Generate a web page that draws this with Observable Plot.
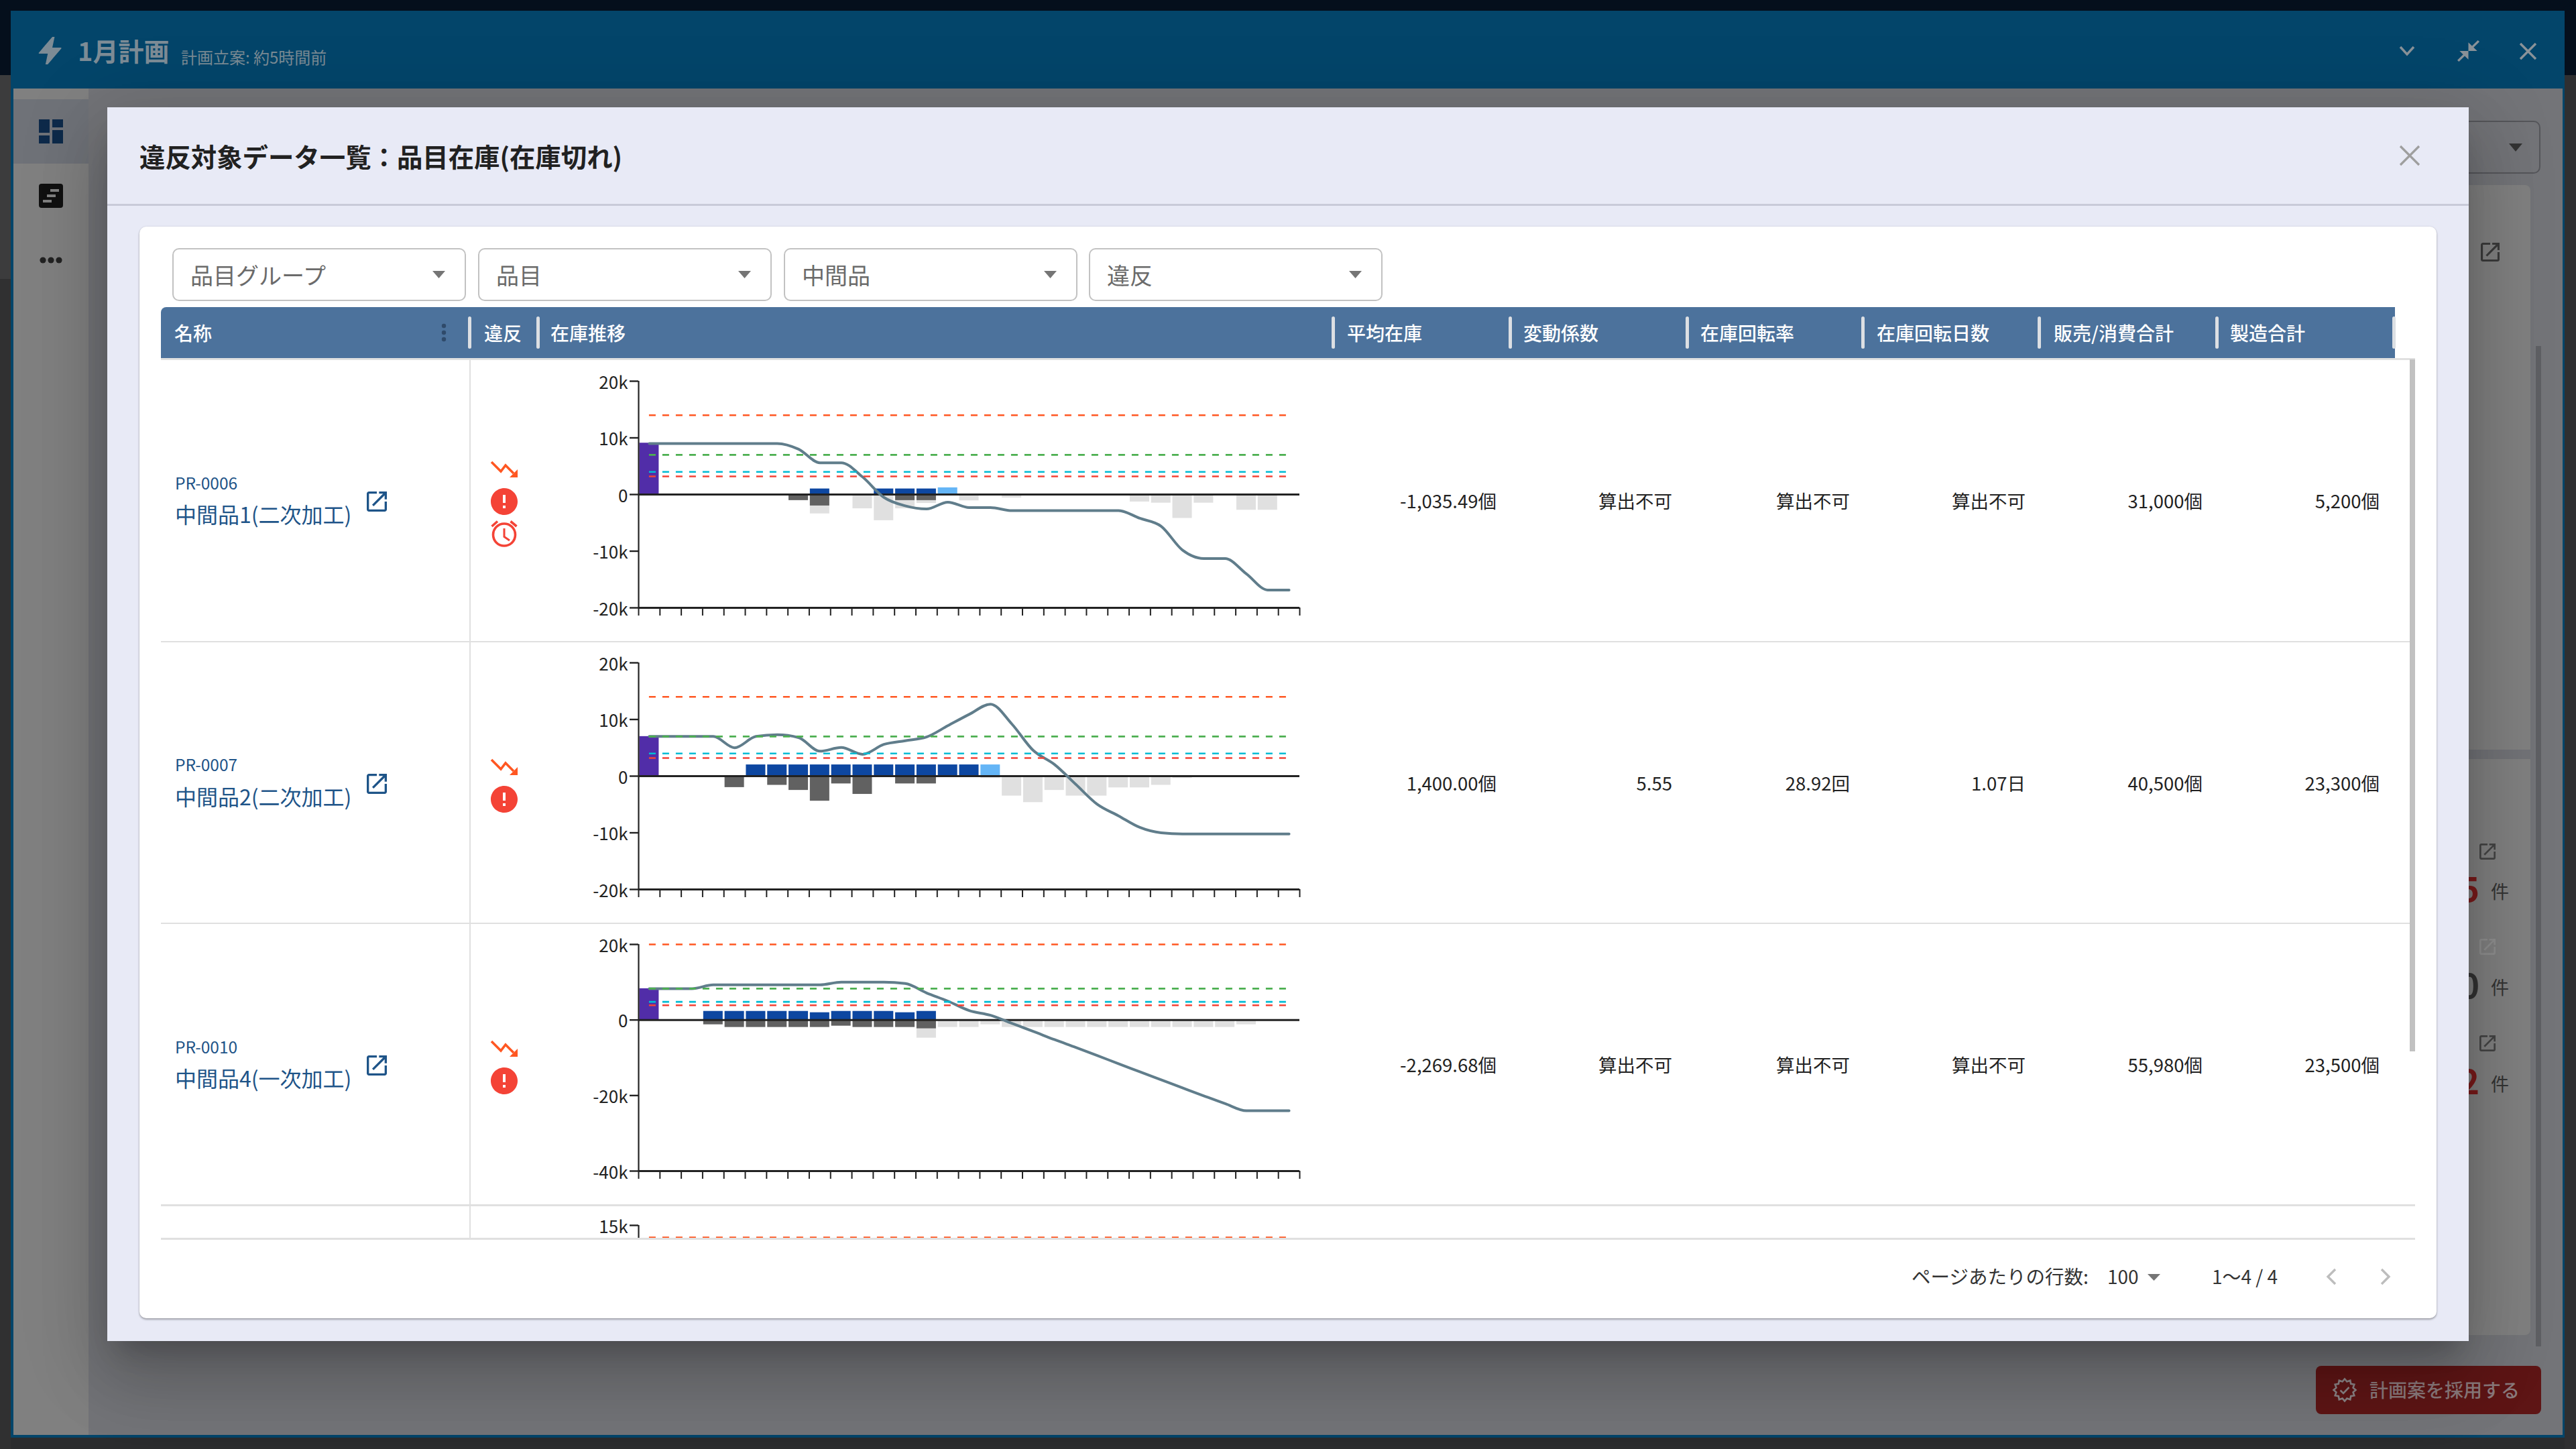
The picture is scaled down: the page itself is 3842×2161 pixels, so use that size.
<!DOCTYPE html>
<html lang="ja"><head><meta charset="utf-8">
<script src="https://cdn.jsdelivr.net/npm/d3@7"></script>
<script src="https://cdn.jsdelivr.net/npm/@observablehq/plot@0.6"></script>
<style>
html,body{margin:0;padding:0;width:3842px;height:2161px;overflow:hidden;background:#2b2c2e;font-family:"Noto Sans CJK JP","Noto Sans",sans-serif}
.a{position:absolute;box-sizing:border-box}
.t{position:absolute;white-space:nowrap;line-height:1}
</style></head><body>
<div id="root" class="a" style="left:0;top:0;width:3842px;height:2161px;overflow:hidden"></div>
<script>
// ---------- Chart data ----------
const slots = d3.range(31);

const itemCodes = ["PR-0006","PR-0007","PR-0010"];
const itemNames = ["中間品1(二次加工)","中間品2(二次加工)","中間品4(一次加工)"];
const avgStock = ["-1,035.49個","1,400.00個","-2,269.68個"];
const variation = ["算出不可","5.55","算出不可"];
const turnover = ["算出不可","28.92回","算出不可"];
const turnoverDays = ["算出不可","1.07日","算出不可"];
const salesTotal = ["31,000個","40,500個","55,980個"];
const makeTotal = ["5,200個","23,300個","23,500個"];
const columns = ["平均在庫","変動係数","在庫回転率","在庫回転日数","販売/消費合計","製造合計"];
const filters = ["品目グループ","品目","中間品","違反"];

const stock1 = [9000,9000,9000,9000,9000,9000,9000,8000,5600,5600,3100,-500,-2000,-2550,-1350,-2300,-2300,-2850,-2850,-2850,-2850,-2850,-2850,-4200,-5600,-9800,-11300,-11300,-14000,-16850,-16850];
const opening1 = 9080;
const firm1 = [0,0,0,0,0,0,0,0,1000,0,0,1000,1000,1000,0,0,0,0,0,0,0,0,0,0,0,0,0,0,0,0,0];
const plan1 = [0,0,0,0,0,0,0,0,0,0,0,0,0,0,1200,0,0,0,0,0,0,0,0,0,0,0,0,0,0,0,0];
const sold1 = [0,0,0,0,0,0,0,-1050,-2000,0,0,0,-1050,-1050,0,0,0,0,0,0,0,0,0,0,0,0,0,0,0,0,0];
const fcst1 = [0,0,0,0,0,0,0,0,-3400,0,-2500,-4600,-2500,-1550,0,-1100,0,-600,0,0,0,0,0,-1300,-1500,-4200,-1500,0,-2750,-2750,0];
const limits1 = [14000,7000,4000,3200];

const stock2 = [7000,7000,7000,7000,5000,7000,7300,6800,4400,5050,3850,5600,6250,6900,8900,10900,12700,9200,4550,2050,-1450,-4950,-7000,-9050,-10000,-10200,-10200,-10200,-10200,-10200,-10200];
const opening2 = 7000;
const firm2 = [0,0,0,0,0,2000,2000,2000,2000,2000,2000,2000,2000,2000,2000,2000,0,0,0,0,0,0,0,0,0,0,0,0,0,0,0];
const plan2 = [0,0,0,0,0,0,0,0,0,0,0,0,0,0,0,0,2000,0,0,0,0,0,0,0,0,0,0,0,0,0,0];
const sold2 = [0,0,0,0,-2000,0,-1600,-2500,-4400,-1350,-3200,0,-1350,-1350,0,0,0,0,0,0,0,0,0,0,0,0,0,0,0,0,0];
const fcst2 = [0,0,0,0,0,0,0,0,0,0,0,0,0,0,0,0,-400,-3500,-4650,-2500,-3500,-3500,-2050,-2050,-1600,-400,0,0,0,0,0];
const limits2 = [14000,7000,4000,3200];

const stock3 = [8300,8300,8300,9300,9300,9300,9300,9300,9300,10000,10000,10000,9650,7170,5000,2500,1240,-890,-3010,-5200,-7270,-9390,-11580,-13700,-15830,-17960,-20080,-22150,-24040,-24040,-24040];
const opening3 = 8300;
const firm3 = [0,0,0,2300,2300,2300,2300,2300,1950,2300,2300,2300,1950,2300,0,0,0,0,0,0,0,0,0,0,0,0,0,0,0,0,0];
const plan3 = slots.map(() => 0);
const sold3 = [0,0,0,-1240,-1950,-1950,-1950,-1950,-1950,-1600,-1950,-1950,-1950,-2300,0,0,0,0,0,0,0,0,0,0,0,0,0,0,0,0,0];
const fcst3 = [0,0,0,0,0,0,0,0,0,0,0,0,0,-4780,-1950,-1950,-1240,-1950,-1950,-1950,-1950,-1950,-1950,-1950,-1950,-1950,-1950,-1950,-1240,0,0];
const limits3 = [20000,8300,4800,3900];

const limits4 = [13400];

const domain1 = [-20000,20000], ticks1 = [-20000,-10000,0,10000,20000];
const domain3 = [-40000,20000], ticks3 = [-40000,-20000,0,20000];
const domain4 = [-15000,15000], ticks4 = [15000];

// ---------- Page helpers ----------
const root = document.getElementById("root");
function box(x,y,w,h,bg,extra="",parent=root){const d=document.createElement("div");d.className="a";d.style.cssText=`left:${x}px;top:${y}px;width:${w}px;height:${h}px;background:${bg};${extra}`;parent.appendChild(d);return d;}
function txt(s,x,yc,size,color,o={},parent=root){const d=document.createElement("div");d.className="t";d.textContent=s;
  const side=o.right?`right:${3842-x}px;`:`left:${x}px;`;
  d.style.cssText=`${side}top:${yc-size/2}px;font-size:${size}px;color:${color};font-weight:${o.weight||400};`;parent.appendChild(d);return d;}
function ico(x,y,w,h,vb,inner,extra="",parent=root){const d=document.createElement("div");d.className="a";d.style.cssText=`left:${x}px;top:${y}px;width:${w}px;height:${h}px;${extra}`;
  d.innerHTML=`<svg xmlns="http://www.w3.org/2000/svg" width="${w}" height="${h}" viewBox="${vb}" preserveAspectRatio="none" style="display:block;overflow:visible">${inner}</svg>`;parent.appendChild(d);return d;}
const crossX=(cx,cy,s,c,sw)=>ico(cx-s/2,cy-s/2,s,s,`0 0 ${s} ${s}`,`<path d="M0 0L${s} ${s}M${s} 0L0 ${s}" stroke="${c}" stroke-width="${sw}" fill="none"/>`);
const OPEN="M19 19H5V5h7V3H5c-1.11 0-2 .9-2 2v14c0 1.1.89 2 2 2h14c1.1 0 2-.9 2-2v-7h-2v7zM14 3v2h3.59l-9.83 9.83 1.41 1.41L19 6.41V10h2V3h-7z";
const ERR="M12 2C6.48 2 2 6.48 2 12s4.48 10 10 10 10-4.48 10-10S17.52 2 12 2zm1 15h-2v-2h2v2zm0-4h-2V7h2v6z";

// ---------- Background application ----------
box(0,0,3842,16,"#050f1c");
box(0,16,16,96,"#050f1c");
box(0,112,16,304,"#3c3c3d");
box(0,416,16,1745,"#303031");
box(3825,16,17,96,"#050f1c");
box(3825,112,17,2049,"#2f2f31");
box(16,16,3809,2128,"#03456a");
box(20,132,3802,2008,"#737478");
box(20,132,112,2008,"#808080");
box(20,148,112,96,"#6f7278");
ico(58,178,36,36,"3 3 18 18",`<path fill="#0e2a4a" d="M3 13h8V3H3v10zm0 8h8v-6H3v6zm10 0h8V11h-8v10zm0-18v6h8V3h-8z"/>`);
ico(58,274,36,36,"0 0 36 36",`<rect width="36" height="36" rx="4" fill="#111"/><rect x="17" y="8" width="13" height="4" fill="#808080"/><rect x="12" y="16" width="13" height="4" fill="#808080"/><rect x="6" y="24" width="13" height="4" fill="#808080"/>`);
ico(58,380,36,16,"0 0 36 16",`<circle cx="6" cy="8" r="4.6" fill="#222"/><circle cx="18" cy="8" r="4.6" fill="#222"/><circle cx="30" cy="8" r="4.6" fill="#222"/>`);
ico(59,55,33,41,"7.4 3 9.7 18",`<path fill="#7c8b95" d="M11 21h-1l1-7H7.5c-.58 0-.57-.32-.38-.66.19-.34.05-.08.07-.12C8.48 10.94 10.42 7.54 13 3h1l-1 7h3.5c.49 0 .56.33.47.51l-.07.15C12.96 17.55 11 21 11 21z"/>`);
txt("1月計画",116,75,38,"#7d8c96",{weight:700});
txt("計画立案: 約5時間前",270,85,24,"#7a8a94");
ico(3579,69,22,14,"0 0 22 14",`<path d="M1 1L11 12L21 1" stroke="#8a9298" stroke-width="3.4" fill="none"/>`);
ico(3665,60,33,32,"2 2 20 20",`<path fill="#8a9298" d="M22 3.41l-5.29 5.29L20 12h-8V4l3.29 3.29L20.59 2 22 3.41zM3.41 22l5.29-5.29L12 20v-8H4l3.29 3.29L2 20.59 3.41 22z"/>`);
crossX(3770,76,23,"#8a9298",3.4);
box(3300,180,489,79,"transparent","border:2.5px solid #55565a;border-radius:10px");
ico(3742,214,20,12,"0 0 20 12",`<path d="M0 0H20L10 12Z" fill="#333"/>`);
box(3300,276,474,1715,"#808080","border-radius:8px");
box(3300,1118,474,14,"#727377");
box(3782,516,8,1492,"#5e5f63");
[[3700,362,28,"#3a3a3a"],[3698,1258,24,"#444"],[3698,1400,24,"#8f8f8f"],[3698,1544,24,"#444"]].forEach(([x,y,s,c])=>ico(x,y,s,s,"3 3 18 18",`<path fill="${c}" d="${OPEN}"/>`));
txt("5",3698,1323,50,"#7a1a1a",{right:true,weight:700});
txt("0",3698,1467,50,"#333",{right:true,weight:700});
txt("2",3698,1610,50,"#7a1a1a",{right:true,weight:700});
[1328,1471,1615].forEach(y=>txt("件",3715,y,27,"#333"));
box(3454,2037,336,72,"#5e1515","border-radius:8px");
const star=d3.range(24).map(i=>{const r=i%2?13:16.5,a=i*Math.PI/12;return `${17+r*Math.sin(a)},${17-r*Math.cos(a)}`}).join(" ");
ico(3480,2056,34,34,"0 0 34 34",`<polygon points="${star}" fill="none" stroke="#8b8486" stroke-width="2.6"/><path d="M10.5 17.5l4.5 4.5l8.5-9" fill="none" stroke="#8b8486" stroke-width="2.6"/>`);
txt("計画案を採用する",3534,2072,28,"#8b7a7c",{weight:500});

// ---------- Modal ----------
const modal=box(160,160,3522,1840,"#e8eaf6","box-shadow:0 27px 37px -17px rgba(0,0,0,.2),0 59px 93px 7px rgba(0,0,0,.14),0 22px 113px 20px rgba(0,0,0,.12)");
box(160,304,3522,3,"#c8cad8");
txt("違反対象データ一覧：品目在庫(在庫切れ)",208,232,38.4,"#212121",{weight:700});
crossX(3594,232,28,"#9e9e9e",3.2);
box(208,337.5,3426,1628.5,"#fff","border-radius:10px;box-shadow:0 2px 3px rgba(0,0,0,.3),0 0 3px rgba(0,0,0,.1)");

// filters
[257,713,1169,1624].forEach((x,i)=>{
  box(x,370,438,79,"#fff","border:2.5px solid #c2c2c2;border-radius:10px");
  txt(filters[i],x+27,410,34,"#6b6b6b");
  ico(x+388,404,19,11,"0 0 19 11",`<path d="M0 0H19L9.5 11Z" fill="#757575"/>`);
});

// table header
box(240,458,3332,76,"#4c729c","border-top-left-radius:8px");
box(240,534,3362,3,"#e0e0e0");
txt("名称",260,495.5,28,"#fff",{weight:500});
txt("違反",722,495.5,28,"#fff",{weight:500});
txt("在庫推移",821,495.5,28,"#fff",{weight:500});
ico(656,482,12,30,"0 0 12 30",`<circle cx="6" cy="4" r="3.2" fill="#2f4a6a"/><circle cx="6" cy="14" r="3.2" fill="#2f4a6a"/><circle cx="6" cy="24" r="3.2" fill="#2f4a6a"/>`);
const textX=[2009,2272,2536,2799,3063,3326];
textX.forEach((x,i)=>{txt(columns[i],x,495.5,28,"#fff",{weight:500});});
[700,802,1988,2252,2516,2778,3041.5,3306,3570].forEach(x=>box(x-2.5,472,5,48,"#dcdfe3","border-radius:2.5px"));

// ---------- Charts ----------
const body=box(0,536,3842,1311,"transparent","overflow:hidden");
const limitColors=["#ff5722","#4caf50","#00bcd4","#f44336"];
const kFmt=d=>d===0?"0":(d/1000)+"k";
function chart(top,dom,ticks,opening,stock,firm,plan,sold,fcst,limits){
  const bars=(arr,fill)=>Plot.rect(slots.filter(i=>arr[i]),{x1:i=>i,x2:i=>i+1,y1:0,y2:i=>arr[i],fill,insetLeft:1.4,insetRight:1.4});
  const marks=[];
  if(stock){
    marks.push(Plot.rect([0],{x1:0,x2:1,y1:0,y2:()=>opening,fill:"#512da8",insetLeft:1.4,insetRight:1.4}));
    marks.push(bars(fcst,"#e0e0e0"),bars(sold,"#616161"),bars(firm,"#0d47a1"),bars(plan,"#64b5f6"));
  }
  marks.push(
    Plot.ruleX([0],{stroke:"#222",strokeWidth:2.2}),
    Plot.axisY({ticks,tickFormat:()=>"",tickSize:13,strokeWidth:2.4,label:null}),
    Plot.axisY({ticks,tickFormat:kFmt,tickSize:0,tickPadding:16,fontSize:26,label:null,dy:3,stroke:"none"}),
    Plot.axisX({ticks:d3.range(32),tickFormat:()=>"",tickSize:12,strokeWidth:2,label:null}),
    Plot.ruleY([dom[0]],{stroke:"#222",strokeWidth:3}));
  if(stock){
    marks.push(Plot.ruleY([0],{stroke:"#222",strokeWidth:3}));
    marks.push(Plot.line(slots,{x:i=>i+0.5,y:i=>stock[i],stroke:"#607d8b",strokeWidth:4,curve:"monotone-x"}));
  }
  limits.forEach((v,i)=>marks.push(Plot.ruleY([v],{x1:0.5,x2:30.42,stroke:limitColors[i],strokeWidth:2.6,strokeDasharray:"10 10"})));
  const svg=Plot.plot({width:1106,height:428,marginLeft:112,marginRight:8,marginTop:30,marginBottom:60,
    x:{domain:[0,31],label:null},y:{domain:dom,label:null},marks,
    style:{background:"transparent",color:"#222",fontFamily:'"Noto Sans CJK JP",sans-serif',overflow:"visible"}});
  const h=document.createElement("div");h.className="a";h.style.cssText=`left:840px;top:${top-30-536}px;width:1106px;height:428px`;h.appendChild(svg);body.appendChild(h);
}
chart(568,domain1,ticks1,opening1,stock1,firm1,plan1,sold1,fcst1,limits1);
chart(988,domain1,ticks1,opening2,stock2,firm2,plan2,sold2,fcst2,limits2);
chart(1408,domain3,ticks3,opening3,stock3,firm3,plan3,sold3,fcst3,limits3);
chart(1827.3,domain4,ticks4,0,null,null,null,null,null,limits4);

// rows
box(700,536,2,1311,"#e0e0e0");
box(240,955.5,3362,2,"#e0e0e0");
box(240,1376,3362,2,"#e0e0e0");
box(240,1796,3362,2.5,"#e0e0e0");
box(240,1846,3362,3,"#e0e0e0");
box(3594,536,8,1032,"#c1c1c1");

const rowY=[746,1166.5,1587];
const trendTop=[688,1132,1552];
const errorTop=[728,1172,1592];
const valRight=[2232,2494,2759,3021,3285,3549];
rowY.forEach((c,r)=>{
  txt(itemCodes[r],261,c-26,24.5,"#1e5488");
  txt(itemNames[r],261,c+20,32,"#1e5488");
  ico(547,c-13,30,30,"3 3 18 18",`<path fill="#1e5488" d="${OPEN}"/>`);
  [avgStock,variation,turnover,turnoverDays,salesTotal,makeTotal].forEach((col,k)=>txt(col[r],valRight[k],c+1,27.5,"#222",{right:true}));
  ico(732,trendTop[r],40,24,"0 0 40 24",`<path d="M1 1L15 15L22 6L34 18" fill="none" stroke="#ff5722" stroke-width="3.6"/><path d="M40 12V24H28Z" fill="#ff5722"/>`);
  ico(732,errorTop[r],40,40,"2 2 20 20",`<path fill="#f44336" d="${ERR}"/>`);
});
ico(732,776,40,40,"0 0 40 40",`<circle cx="20" cy="21.5" r="16.5" fill="none" stroke="#f44336" stroke-width="3.6"/><path d="M20 12V24.5L28 30" fill="none" stroke="#f44336" stroke-width="3"/><path d="M1.5 9L10 1.5M29.5 1.5L38.5 9" fill="none" stroke="#f44336" stroke-width="3.6"/>`);

// footer
txt("ページあたりの行数:",2851,1903,28.5,"#333");
txt("100",3143,1903,28,"#333");
ico(3203,1900,19,10,"0 0 19 10",`<path d="M0 0H19L9.5 10Z" fill="#757575"/>`);
txt("1〜4 / 4",3299,1903,28,"#333");
ico(3470,1892,14,24,"0 0 14 24",`<path d="M13 1L2 12L13 23" fill="none" stroke="#bdbdbd" stroke-width="3.4"/>`);
ico(3551,1892,14,24,"0 0 14 24",`<path d="M1 1L12 12L1 23" fill="none" stroke="#bdbdbd" stroke-width="3.4"/>`);
</script>
</body></html>
